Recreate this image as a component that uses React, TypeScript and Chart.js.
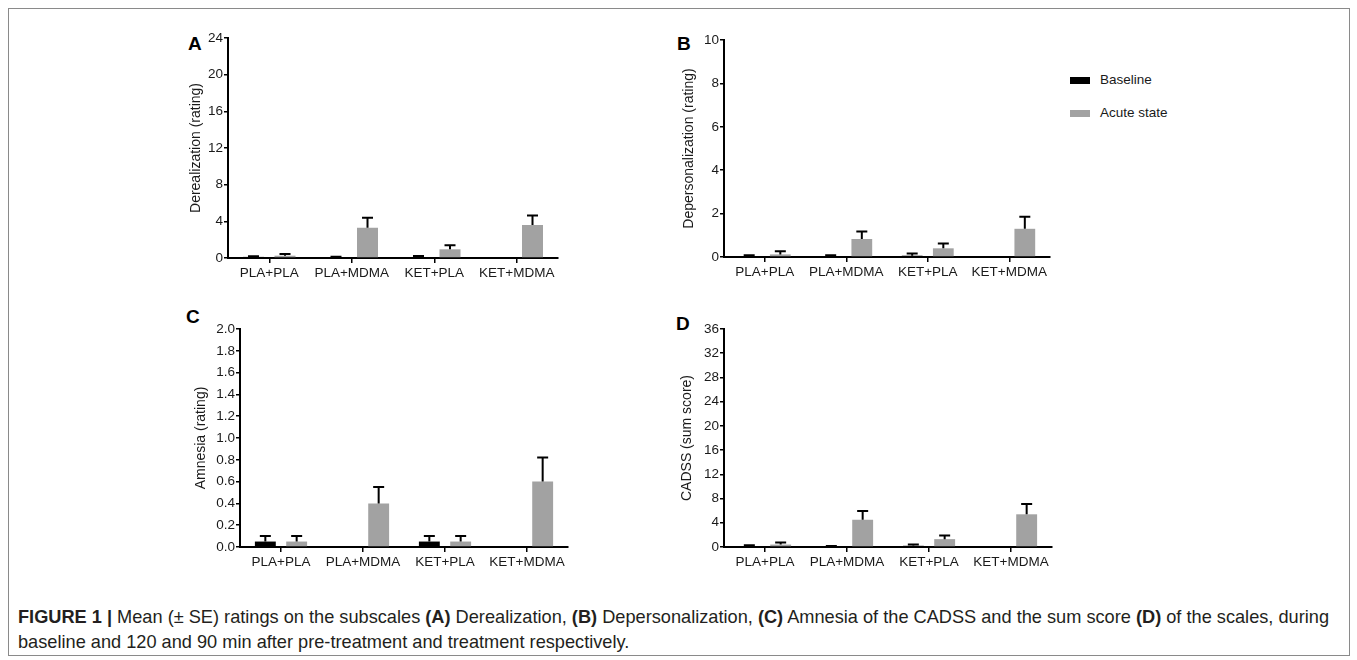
import React, { useEffect, useRef } from "react";
import { Chart, registerables } from "chart.js";

Chart.register(...registerables);

// ---------- data ----------
const categories = ["PLA+PLA", "PLA+MDMA", "KET+PLA", "KET+MDMA"];
const seriesNames = ["Baseline", "Acute state"];

// (A) Derealization
const derealBaseline = [0.12, 0.1, 0.1, 0.05];
const derealBaselineSE = [0.08, 0.05, 0.12, 0];
const derealAcute = [0.25, 3.3, 0.95, 3.6];
const derealAcuteSE = [0.2, 1.1, 0.45, 1.05];

// (B) Depersonalization
const depersBaseline = [0.03, 0.03, 0.06, 0];
const depersBaselineSE = [0.05, 0.05, 0.1, 0];
const depersAcute = [0.12, 0.83, 0.4, 1.3];
const depersAcuteSE = [0.15, 0.35, 0.22, 0.55];

// (C) Amnesia
const amnesiaBaseline = [0.05, 0, 0.05, 0];
const amnesiaBaselineSE = [0.05, 0, 0.05, 0];
const amnesiaAcute = [0.05, 0.4, 0.05, 0.6];
const amnesiaAcuteSE = [0.05, 0.15, 0.05, 0.22];

// (D) CADSS sum score
const cadssBaseline = [0.1, 0.1, 0.2, 0.05];
const cadssBaselineSE = [0.2, 0.05, 0.2, 0];
const cadssAcute = [0.4, 4.5, 1.3, 5.4];
const cadssAcuteSE = [0.35, 1.45, 0.6, 1.7];

// y-axis ranges
const derealTicks = { max: 24, step: 4, decimals: 0 };
const depersTicks = { max: 10, step: 2, decimals: 0 };
const amnesiaTicks = { max: 2, step: 0.2, decimals: 1 };
const cadssTicks = { max: 36, step: 4, decimals: 0 };

// ---------- styles ----------
const FONT = "'Liberation Sans', Arial, Helvetica, sans-serif";
const BASE_COLOR = "#000000";
const ACUTE_COLOR = "#a2a2a2";
const TEXT_COLOR = "#1a1a1a";

type PanelDef = {
  letter: string;
  yTitle: string;
  base: number[];
  baseSE: number[];
  acute: number[];
  acuteSE: number[];
  ticks: { max: number; step: number; decimals: number };
  left: number;
  top: number;
  width: number;
  height: number;
  yWidth: number;
  letterX: number;
  letterY: number;
};

const panels: PanelDef[] = [
  {
    letter: "A",
    yTitle: "Derealization (rating)",
    base: derealBaseline,
    baseSE: derealBaselineSE,
    acute: derealAcute,
    acuteSE: derealAcuteSE,
    ticks: derealTicks,
    left: 188,
    top: 20,
    width: 380,
    height: 278,
    yWidth: 40,
    letterX: 188,
    letterY: 34,
  },
  {
    letter: "B",
    yTitle: "Depersonalization (rating)",
    base: depersBaseline,
    baseSE: depersBaselineSE,
    acute: depersAcute,
    acuteSE: depersAcuteSE,
    ticks: depersTicks,
    left: 681,
    top: 22,
    width: 379,
    height: 275,
    yWidth: 43,
    letterX: 677,
    letterY: 34,
  },
  {
    letter: "C",
    yTitle: "Amnesia (rating)",
    base: amnesiaBaseline,
    baseSE: amnesiaBaselineSE,
    acute: amnesiaAcute,
    acuteSE: amnesiaAcuteSE,
    ticks: amnesiaTicks,
    left: 193,
    top: 311,
    width: 385,
    height: 276,
    yWidth: 47,
    letterX: 186,
    letterY: 307,
  },
  {
    letter: "D",
    yTitle: "CADSS (sum score)",
    base: cadssBaseline,
    baseSE: cadssBaselineSE,
    acute: cadssAcute,
    acuteSE: cadssAcuteSE,
    ticks: cadssTicks,
    left: 679,
    top: 311,
    width: 383,
    height: 276,
    yWidth: 45,
    letterX: 676,
    letterY: 314,
  },
];

const errorBarPlugin = {
  id: "errorBars",
  afterDatasetsDraw(chart: any) {
    const ctx = chart.ctx;
    const yScale = chart.scales.y;
    ctx.save();
    ctx.strokeStyle = "#000";
    ctx.lineWidth = 2;
    chart.data.datasets.forEach((ds: any, di: number) => {
      const meta = chart.getDatasetMeta(di);
      meta.data.forEach((bar: any, i: number) => {
        const err = ds.errors[i];
        if (!err) return;
        const v = ds.data[i];
        const yTop = yScale.getPixelForValue(v + err);
        const yBar = yScale.getPixelForValue(v);
        const half = 5.5;
        ctx.beginPath();
        ctx.moveTo(bar.x, yBar);
        ctx.lineTo(bar.x, yTop);
        ctx.moveTo(bar.x - half, yTop);
        ctx.lineTo(bar.x + half, yTop);
        ctx.stroke();
      });
    });
    ctx.restore();
  },
};

function Panel({ p }: { p: PanelDef }) {
  const ref = useRef<HTMLCanvasElement | null>(null);
  useEffect(() => {
    if (!ref.current) return;
    const chart = new Chart(ref.current, {
      type: "bar",
      data: {
        labels: categories,
        datasets: [
          {
            label: seriesNames[0],
            data: p.base,
            errors: p.baseSE,
            backgroundColor: BASE_COLOR,
            borderWidth: 0,
            barPercentage: 0.667,
            categoryPercentage: 0.764,
          } as any,
          {
            label: seriesNames[1],
            data: p.acute,
            errors: p.acuteSE,
            backgroundColor: ACUTE_COLOR,
            borderWidth: 0,
            barPercentage: 0.667,
            categoryPercentage: 0.764,
          } as any,
        ],
      },
      options: {
        animation: false,
        responsive: false,
        maintainAspectRatio: false,
        layout: { padding: { top: 18, right: 10, left: 0, bottom: 0 } },
        plugins: {
          legend: { display: false },
          tooltip: { enabled: false },
          title: { display: false },
        },
        scales: {
          x: {
            offset: true,
            grid: {
              display: true,
              offset: false,
              drawOnChartArea: false,
              drawTicks: true,
              tickLength: 5,
              color: "#000",
              lineWidth: 1.5,
            },
            border: { display: true, color: "#000", width: 2 },
            ticks: {
              color: TEXT_COLOR,
              font: { family: FONT, size: 13.5 },
              padding: 2,
              maxRotation: 0,
              autoSkip: false,
            },
            afterFit: (s: any) => {
              s.height = 40;
            },
          },
          y: {
            min: 0,
            max: p.ticks.max,
            grid: {
              display: true,
              drawOnChartArea: false,
              drawTicks: true,
              tickLength: 4,
              color: "#000",
              lineWidth: 1.5,
            },
            border: { display: true, color: "#000", width: 2 },
            ticks: {
              stepSize: p.ticks.step,
              color: TEXT_COLOR,
              font: { family: FONT, size: 13.5 },
              padding: 1,
              callback: (v: any) => Number(v).toFixed(p.ticks.decimals),
            },
            title: {
              display: true,
              text: p.yTitle,
              color: TEXT_COLOR,
              font: { family: FONT, size: 14 },
              padding: { top: 0, bottom: 0 },
            },
            afterFit: (s: any) => {
              s.width = p.yWidth;
            },
          },
        },
      },
      plugins: [errorBarPlugin],
    } as any);
    return () => chart.destroy();
  }, [p]);
  return (
    <>
      <div
        style={{
          position: "absolute",
          left: p.letterX,
          top: p.letterY,
          font: `bold 19px ${FONT}`,
          lineHeight: "19px",
          color: "#000",
        }}
      >
        {p.letter}
      </div>
      <canvas
        ref={ref}
        width={p.width}
        height={p.height}
        style={{
          position: "absolute",
          left: p.left,
          top: p.top,
          width: p.width,
          height: p.height,
        }}
      />
    </>
  );
}

export default function App() {
  return (
    <div
      style={{
        position: "absolute",
        left: 0,
        top: 0,
        width: 1357,
        height: 660,
        background: "#fff",
        overflow: "hidden",
      }}
    >
      <div
        style={{
          position: "absolute",
          left: 8,
          top: 8,
          width: 1342,
          height: 648,
          border: "1px solid #8a8a8a",
          boxSizing: "border-box",
        }}
      />
      {panels.map((p) => (
        <Panel key={p.letter} p={p} />
      ))}
      {/* legend */}
      <div style={{ position: "absolute", left: 1070, top: 77, width: 20, height: 7, background: BASE_COLOR }} />
      <div
        style={{ position: "absolute", left: 1100, top: 73, font: `13.5px ${FONT}`, lineHeight: "14px", color: TEXT_COLOR }}
      >
        {seriesNames[0]}
      </div>
      <div style={{ position: "absolute", left: 1070, top: 110, width: 20, height: 7, background: ACUTE_COLOR }} />
      <div
        style={{ position: "absolute", left: 1100, top: 106, font: `13.5px ${FONT}`, lineHeight: "14px", color: TEXT_COLOR }}
      >
        {seriesNames[1]}
      </div>
      {/* caption */}
      <div
        style={{
          position: "absolute",
          left: 18,
          top: 605,
          fontFamily: "'Liberation Sans Narrow', 'Liberation Sans', Arial, sans-serif",
          fontSize: 18.2,
          lineHeight: "25px",
          color: "#231f20",
          whiteSpace: "nowrap",
        }}
      >
        <b>FIGURE 1 |</b> Mean (± SE) ratings on the subscales <b>(A)</b> Derealization, <b>(B)</b> Depersonalization,{" "}
        <b>(C)</b> Amnesia of the CADSS and the sum score <b>(D)</b> of the scales, during
        <br />
        baseline and 120 and 90 min after pre-treatment and treatment respectively.
      </div>
    </div>
  );
}
